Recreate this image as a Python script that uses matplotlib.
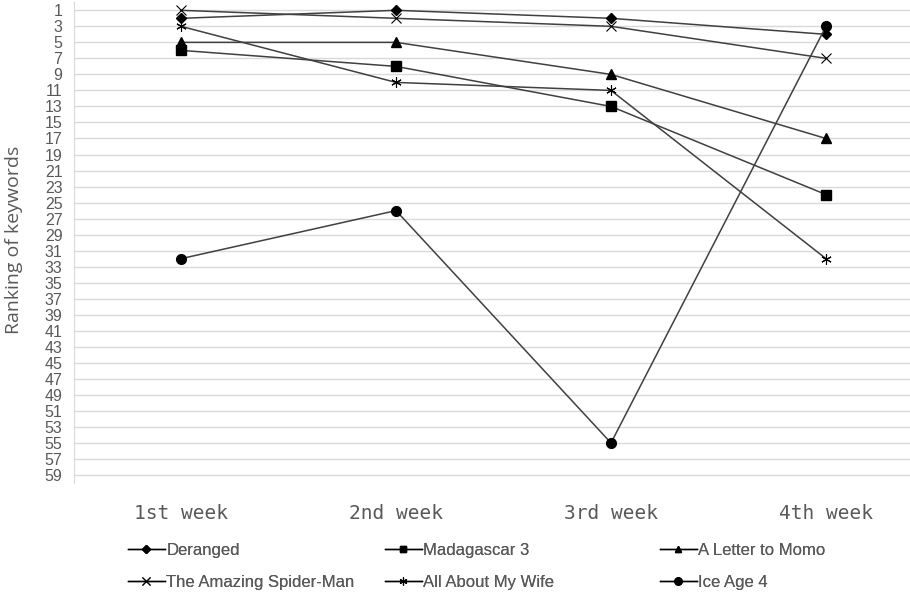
import matplotlib
matplotlib.use("Agg")
import matplotlib.pyplot as plt
from matplotlib.lines import Line2D

weeks = ["1st week", "2nd week", "3rd week", "4th week"]
series_names = ["Deranged", "Madagascar 3", "A Letter to Momo",
                "The Amazing Spider-Man", "All About My Wife", "Ice Age 4"]
deranged = [2, 1, 2, 4]
madagascar3 = [6, 8, 13, 24]
letter_momo = [5, 5, 9, 17]
spiderman = [1, 2, 3, 7]
about_wife = [3, 10, 11, 32]
ice_age4 = [32, 26, 55, 3]
y_ticks = list(range(1, 60, 2))

values = [deranged, madagascar3, letter_momo, spiderman, about_wife, ice_age4]
markers = ["D", "s", "^", "x", (6, 2, 0), "o"]
msizes = [5, 6.5, 6.5, 7, 7.5, 7]
mews = [1.0, 1.0, 1.0, 0.8, 0.8, 1.0]

W, H = 910, 593
fig = plt.figure(figsize=(W / 100, H / 100), dpi=100)
left_px, right_px, top_px, bot_px = 73.5, 933.5, 2.3, 483
ax = fig.add_axes([left_px / W, 1 - bot_px / H, (right_px - left_px) / W, (bot_px - top_px) / H])

handles = []
for name, vals, m, ms, mew in zip(series_names, values, markers, msizes, mews):
    ln, = ax.plot(range(len(weeks)), vals, color="#404040", lw=1.1,
                  marker=m, markersize=ms, markerfacecolor="black",
                  markeredgecolor="black", markeredgewidth=mew, label=name,
                  clip_on=False, zorder=3)
    handles.append(ln)

ax.set_xlim(-0.5, 3.5)
ax.set_ylim(60, 0)
ax.set_yticks(y_ticks)
ax.set_yticklabels([str(t) for t in y_ticks], fontsize=11.5, color="#595959",
                   family=["Liberation Sans", "DejaVu Sans"])
ax.set_xticks(range(len(weeks)))
ax.set_xticklabels(weeks, fontsize=14, color="#595959",
                   family=["DejaVu Sans Mono", "DejaVu Sans"])
ax.tick_params(axis="both", length=0)
ax.tick_params(axis="y", pad=8)
ax.tick_params(axis="x", pad=15)
ax.grid(axis="y", color="#d9d9d9", lw=1)
ax.set_axisbelow(True)
for s in ["top", "right", "bottom"]:
    ax.spines[s].set_visible(False)
ax.spines["left"].set_color("#d9d9d9")

fig.text(14 / W, 1 - 240 / H, "Ranking of keywords", rotation=90, fontsize=14,
         color="#595959", ha="center", va="center",
         family=["Open Sans", "DejaVu Sans"])

legfont = {"family": ["Liberation Sans", "DejaVu Sans"], "size": 12}
col_x = [128, 385, 660]
for i, cx in enumerate(col_x):
    hs = [handles[i], handles[i + 3]]
    proxies = []
    for h in hs:
        ms = h.get_markersize() * 0.75
        proxies.append(Line2D([], [], color="black", lw=1, marker=h.get_marker(),
                              markersize=ms, markerfacecolor="black",
                              markeredgecolor="black",
                              markeredgewidth=h.get_markeredgewidth()))
    leg = fig.legend(proxies, [h.get_label() for h in hs], loc="upper left",
                     bbox_to_anchor=(cx / W, 1 - 543 / H), frameon=False,
                     prop=legfont, handlelength=2.2, handletextpad=0.1,
                     labelspacing=1.0, borderpad=0, borderaxespad=0,
                     labelcolor="#595959")
    fig.add_artist(leg)

fig.savefig("out.png", dpi=100)
